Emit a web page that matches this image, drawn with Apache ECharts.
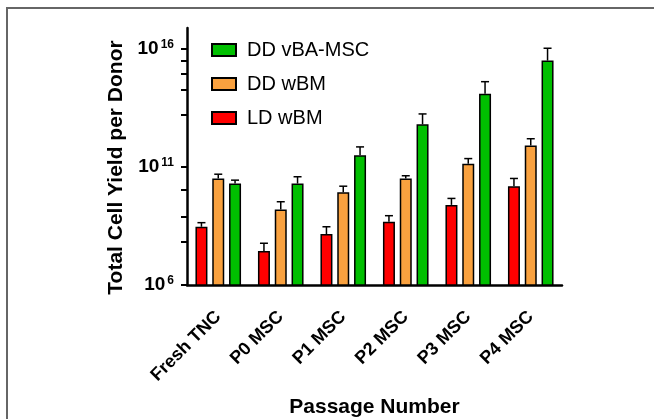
<!DOCTYPE html>
<html>
<head>
<meta charset="utf-8">
<script src="https://cdn.jsdelivr.net/npm/echarts@6/dist/echarts.min.js"></script>
<style>
html,body{margin:0;padding:0;background:#fff;}
#chart{width:654px;height:419px;}
</style>
</head>
<body>
<div id="chart"></div>
<script>
// ---- data ----
const categories = ['Fresh TNC', 'P0 MSC', 'P1 MSC', 'P2 MSC', 'P3 MSC', 'P4 MSC'];
const seriesNames = ['LD wBM', 'DD wBM', 'DD vBA-MSC'];
const ldWBM      = [2.95e8, 2.8e7, 1.45e8, 4.8e8, 2.5e9, 1.55e10];
const ldWBMErr   = [4.4e8, 5.9e7, 2.95e8, 8.7e8, 4.7e9, 3.3e10];
const ddWBM      = [3.3e10, 1.6e9, 8.5e9, 3.3e10, 1.4e11, 8.3e11];
const ddWBMErr   = [5.0e10, 3.4e9, 1.55e10, 4.3e10, 2.3e11, 1.6e12];
const ddVBA      = [2.0e10, 2.0e10, 3.2e11, 6.5e12, 1.3e14, 3.3e15];
const ddVBAErr   = [2.8e10, 3.9e10, 7.2e11, 1.8e13, 4.2e14, 1.1e16];
const yLabelValues = [1e6, 1e11, 1e16];
const yTickExponents = [6, 7.83, 8.89, 10.05, 11, 13.2, 14.27, 14.97, 15.53, 16];

// ---- chart ----
const colors = ['#ff0000', '#f9a13f', '#00bf00'];
const values = [ldWBM, ddWBM, ddVBA];
const errs = [ldWBMErr, ddWBMErr, ddVBAErr];
const BAR_W = 12, BAR_GAP = 0.4;
const FONT = '"Liberation Sans", Arial, sans-serif';

const chart = echarts.init(document.getElementById('chart'));
const series = [];
seriesNames.forEach((name, i) => {
  series.push({
    name: name,
    type: 'bar',
    barWidth: BAR_W,
    barGap: (BAR_GAP * 100) + '%',
    itemStyle: {color: colors[i], borderColor: '#000', borderWidth: 1.5},
    data: values[i],
    z: 2
  });
});
seriesNames.forEach((name, i) => {
  series.push({
    name: name + ' err',
    type: 'custom',
    z: 3,
    silent: true,
    data: categories.map((c, k) => [k, values[i][k], errs[i][k]]),
    encode: {x: 0, y: [1, 2]},
    renderItem: function (params, api) {
      const k = api.value(0);
      const p0 = api.coord([k, api.value(1)]);
      const p1 = api.coord([k, api.value(2)]);
      const off = (i - 1) * (BAR_W * (1 + BAR_GAP));
      const x = p0[0] + off;
      const style = {stroke: '#000', lineWidth: 1.5};
      return {
        type: 'group',
        children: [
          {type: 'line', shape: {x1: x, y1: p0[1], x2: x, y2: p1[1]}, style: style},
          {type: 'line', shape: {x1: x - 4, y1: p1[1], x2: x + 4, y2: p1[1]}, style: style}
        ]
      };
    }
  });
});

chart.setOption({
  animation: false,
  textStyle: {fontFamily: FONT},
  grid: {left: 187, right: 92, top: 28, bottom: 134, containLabel: false, outerBoundsMode: 'none'},
  legend: {
    data: ['DD vBA-MSC', 'DD wBM', 'LD wBM'],
    orient: 'vertical',
    left: 206,
    top: 34,
    itemWidth: 24,
    itemHeight: 12,
    itemGap: 12,
    icon: 'rect',
    textStyle: {fontFamily: FONT, fontSize: 20, color: '#000', lineHeight: 22, padding: [0, 0, 0, 6]}
  },
  xAxis: {
    type: 'category',
    data: categories,
    boundaryGap: true,
    name: 'Passage Number',
    nameLocation: 'middle',
    nameGap: 112,
    nameTextStyle: {fontFamily: FONT, fontSize: 21, fontWeight: 'bold', color: '#000'},
    axisLine: {lineStyle: {color: '#000', width: 2.5}},
    axisTick: {alignWithLabel: true, length: 9, lineStyle: {color: '#000', width: 2.5}},
    axisLabel: {rotate: 45, margin: 29, fontFamily: FONT, fontSize: 18, fontWeight: 'bold', color: '#000', interval: 0}
  },
  yAxis: {
    type: 'log',
    logBase: 10,
    min: 1e6,
    max: Math.pow(10, 16.9),
    name: 'Total Cell Yield per Donor',
    nameLocation: 'middle',
    nameGap: 50,
    nameTextStyle: {fontFamily: FONT, fontSize: 21, fontWeight: 'bold', color: '#000', padding: [0, 22, 0, 0]},
    axisLine: {show: true, lineStyle: {color: '#000', width: 2.5}},
    axisTick: {show: true, length: 6, lineStyle: {color: '#000', width: 2},
      customValues: yTickExponents.map(e => Math.pow(10, e))},
    splitLine: {show: false},
    axisLabel: {
      margin: 13,
      customValues: yLabelValues,
      formatter: function (v) {
        return '{b|10}{s|' + Math.round(Math.log10(v)) + '}';
      },
      rich: {
        b: {fontFamily: FONT, fontSize: 19, fontWeight: 'bold', color: '#000'},
        s: {fontFamily: FONT, fontSize: 12, fontWeight: 'bold', color: '#000', padding: [0, 0, 9, 2]}
      }
    }
  },
  graphic: [{
    type: 'polyline',
    silent: true,
    shape: {points: [[7, 419], [7, 8], [654, 8]]},
    style: {stroke: '#666', lineWidth: 2, fill: null}
  }],
  series: series
});
</script>
</body>
</html>
